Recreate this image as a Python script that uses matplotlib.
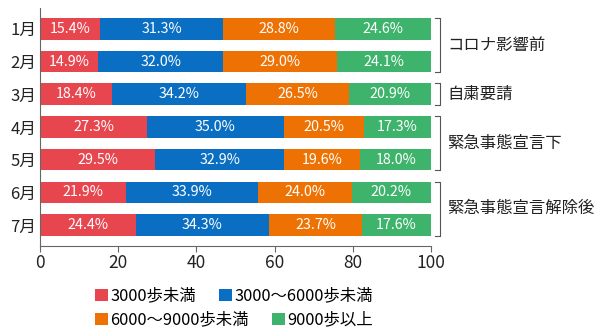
import matplotlib.pyplot as plt
from matplotlib.patches import Patch
import numpy as np

plt.rcParams['font.family'] = ['Noto Sans CJK JP', 'DejaVu Sans']

# 月別の歩数区分の割合 (%)
months = ['1月', '2月', '3月', '4月', '5月', '6月', '7月']
steps_lt3000 = [15.4, 14.9, 18.4, 27.3, 29.5, 21.9, 24.4]
steps_3000_6000 = [31.3, 32.0, 34.2, 35.0, 32.9, 33.9, 34.3]
steps_6000_9000 = [28.8, 29.0, 26.5, 20.5, 19.6, 24.0, 23.7]
steps_ge9000 = [24.6, 24.1, 20.9, 17.3, 18.0, 20.2, 17.6]

categories = ['3000歩未満', '3000～6000歩未満', '6000～9000歩未満', '9000歩以上']
colors = ['#e8464f', '#0a6fc2', '#ee7203', '#3db36b']

# 期間のグループ (開始行, 終了行, 名称)
groups = [(0, 1, 'コロナ影響前'), (2, 2, '自粛要請'),
          (3, 4, '緊急事態宣言下'), (5, 6, '緊急事態宣言解除後')]

series = [steps_lt3000, steps_3000_6000, steps_6000_9000, steps_ge9000]

fig = plt.figure(figsize=(6, 3.31), dpi=100)
ax = fig.add_axes([0.067, 0.257, 0.651, 0.719])

y = np.arange(len(months))
h = 0.66
left = np.zeros(len(months))
for vals, c in zip(series, colors):
    vals = np.array(vals)
    bars = ax.barh(y, vals, left=left, height=h, color=c, edgecolor='none')
    for b, v in zip(bars, vals):
        ax.text(b.get_x() + b.get_width() / 2, b.get_y() + b.get_height() / 2,
                f'{v:.1f}%', ha='center', va='center', color='white', fontsize=10.3)
    left += vals

ax.set_xlim(0, 100)
ax.set_ylim(6.64, -0.64)
ax.set_yticks(y)
ax.set_yticklabels(months, fontsize=12, color='#222222')
ax.set_xticks([0, 20, 40, 60, 80, 100])
ax.tick_params(axis='x', labelsize=12.5, colors='#222222', length=4, color='#666666', pad=2)
ax.tick_params(axis='y', length=0, pad=3)
for s in ['top', 'right']:
    ax.spines[s].set_visible(False)
ax.spines['left'].set_color('#666666')
ax.spines['bottom'].set_color('#666666')
ax.spines['left'].set_linewidth(0.8)
ax.spines['bottom'].set_linewidth(0.8)

# 右側のかっこと期間名
bx, hook = 102.3, 1.2
for start, end, name in groups:
    top, bot = start - h / 2, end + h / 2
    ax.plot([bx - hook, bx, bx, bx - hook], [top, top, bot, bot],
            color='#555555', lw=0.8, clip_on=False)
    ax.text(bx + 2.0, (top + bot) / 2, name, ha='left', va='center',
            fontsize=11.8, color='#222222', clip_on=False)

# 凡例 (2段)
handles = [Patch(facecolor=c, edgecolor='none') for c in colors]
leg_kw = dict(ncol=2, frameon=False, fontsize=11.8, handlelength=0.8,
              handleheight=0.8, handletextpad=0.12, columnspacing=1.4,
              borderpad=0, loc='center')
fig.legend(handles[:2], categories[:2], bbox_to_anchor=(0.39, 0.105), **leg_kw)
fig.legend(handles[2:], categories[2:], bbox_to_anchor=(0.39, 0.033), **leg_kw)

fig.savefig('out.png', dpi=100)
